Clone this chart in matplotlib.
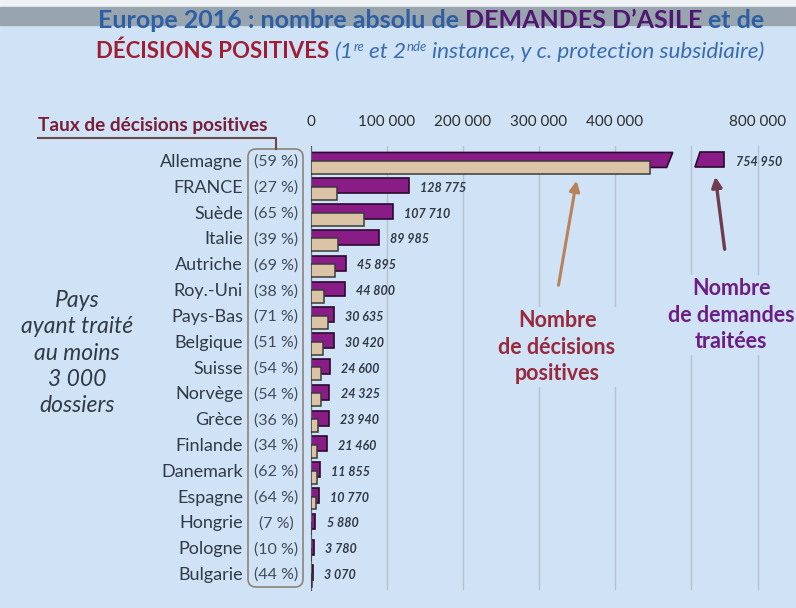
import matplotlib
matplotlib.use("Agg")
import matplotlib.pyplot as plt
from matplotlib.patches import Polygon, FancyBboxPatch, Rectangle, FancyArrowPatch
from matplotlib.transforms import Affine2D, blended_transform_factory
import numpy as np

# --- data ---
pays = ["Allemagne", "FRANCE", "Suède", "Italie", "Autriche", "Roy.-Uni",
        "Pays-Bas", "Belgique", "Suisse", "Norvège", "Grèce", "Finlande",
        "Danemark", "Espagne", "Hongrie", "Pologne", "Bulgarie"]
taux = [59, 27, 65, 39, 69, 38, 71, 51, 54, 54, 36, 34, 62, 64, 7, 10, 44]
demandes = [754950, 128775, 107710, 89985, 45895, 44800, 30635, 30420,
            24600, 24325, 23940, 21460, 11855, 10770, 5880, 3780, 3070]
positives = [445400, 34800, 70000, 35100, 31700, 17000, 21800, 15500,
             13300, 13100, 8600, 7300, 7350, 6900, 410, 380, 1350]
ticks_left = [0, 100000, 200000, 300000, 400000, 500000]
ticks_right = [800000]

W, H = 796, 608
BG = "#cfe2f6"
PURPLE = "#8a1c88"
TAN = "#dbc4a6"
TXT = "#323a46"
plt.rcParams["font.family"] = ["Lato", "DejaVu Sans"]

fig = plt.figure(figsize=(W / 100, H / 100), dpi=100, facecolor=BG)
# pixel coordinates of the reference (origin top-left)
T = Affine2D().scale(1 / W, -1 / H).translate(0, 1) + fig.transFigure

# video overlay strip at the top
fig.patches.append(Rectangle((0, 0), W, 7, transform=T, color="#eef2f5", zorder=0))
fig.patches.append(Rectangle((0, 7), W, 18, transform=T, color="#98a4ae", zorder=0))

# --- axes geometry ---
PX_PER = 76 / 100000            # pixels per unit
x0_px, top_px, bot_px = 311, 146, 590
row0, row_step = 162, 25.8
n = len(pays)
ylim = (16 + (bot_px - 575) / row_step, -(row0 - top_px) / row_step)
bottom = 1 - bot_px / H
height = (bot_px - top_px) / H

ax = fig.add_axes([x0_px / W, bottom, (700 - x0_px) / W, height])
ax.set_xlim(0, (700 - x0_px) / PX_PER)
r0, r1 = 690, 790
ax2 = fig.add_axes([r0 / W, bottom, (r1 - r0) / W, height])
ax2.set_xlim(800000 - (758 - r0) / PX_PER, 800000 + (r1 - 758) / PX_PER)

for a in (ax, ax2):
    a.set_ylim(*ylim)
    a.patch.set_alpha(0)
    for s in a.spines.values():
        s.set_visible(False)
    a.xaxis.tick_top()
    a.tick_params(axis="x", length=0, pad=12, labelsize=11, labelcolor="#2e2e2e")
    a.set_axisbelow(True)
    a.grid(axis="x", color="#b4c2d0", lw=1)
    a.set_yticks([])

ax.spines["left"].set_visible(True)
ax.spines["left"].set_color("#5a6068")
fmt = lambda v: f"{v:,}".replace(",", " ")
ax.set_xticks(ticks_left)
ax.set_xticklabels([fmt(t) if t < 500000 else "" for t in ticks_left])
ax2.set_xticks(ticks_right)
ax2.set_xticklabels([fmt(t) for t in ticks_right])

y = np.arange(n)
ph, poff = 0.58, -0.08
th, toff = 0.50, 0.21
BREAK = 476000
SLANT = 8000
cut_top = ax2.get_xlim()[0] + (700 - r0) / PX_PER
cut_bot = ax2.get_xlim()[0] + (695 - r0) / PX_PER

for i, v in enumerate(demandes):
    yt, yb = i + poff - ph / 2, i + poff + ph / 2
    if v > BREAK:
        ax.add_patch(Polygon([(0, yt), (BREAK, yt), (BREAK - SLANT, yb), (0, yb)],
                             fc=PURPLE, ec="#2a0a2c", lw=1.2, zorder=2))
        ax2.add_patch(Polygon([(cut_top, yt), (v, yt), (v, yb), (cut_bot, yb)],
                              fc=PURPLE, ec="#2a0a2c", lw=1.2, zorder=2))
        ax2.annotate(fmt(v), (v, i), xytext=(9, 0), textcoords="offset points",
                     va="center", ha="left", fontsize=9, fontweight="bold",
                     style="italic", color=TXT)
    else:
        ax.barh(i + poff, v, height=ph, color=PURPLE, edgecolor="#2a0a2c",
                lw=1.2, zorder=2)
        ax.annotate(fmt(v), (v, i), xytext=(8, 0), textcoords="offset points",
                    va="center", ha="left", fontsize=9, fontweight="bold",
                    style="italic", color=TXT)
ax.barh(y + toff, positives, height=th, color=TAN, edgecolor="#3a3a3a",
        lw=1.1, zorder=3)

# country names and rates
bt = blended_transform_factory(T, ax.transData)
for i, (p, t) in enumerate(zip(pays, taux)):
    fig.text(243, i, p, transform=bt, ha="right", va="center",
             fontsize=13, color=TXT)
    fig.text(276, i, f"({t} %)", transform=bt, ha="center", va="center",
             fontsize=11.5, color="#434b58")
fig.patches.append(FancyBboxPatch((248, 149), 55, 438, transform=T,
                                  boxstyle="round,pad=0,rounding_size=8",
                                  fc="none", ec="#8c8478", lw=1.2))

fig.text(38, 131, "Taux de décisions positives", transform=T, ha="left",
         va="baseline", fontsize=13.7, fontweight="bold", color="#7a1e38")
fig.lines.append(plt.Line2D([38, 276, 276], [138, 138, 149], transform=T,
                            color="#6a4848", lw=1.5))

fig.text(77, 353, "Pays\nayant traité\nau moins\n3 000\ndossiers", transform=T,
         ha="center", va="center", fontsize=16.5, style="italic",
         color=TXT, linespacing=1.3)

# annotations
box = dict(boxstyle="square,pad=0.15", fc=BG, ec="none")
fig.text(557, 347, "Nombre\nde décisions\npositives", transform=T, ha="center",
         va="center", fontsize=15.5, fontweight="bold", color="#982a3c",
         linespacing=1.3, bbox=box)
fig.text(731, 315, "Nombre\nde demandes\ntraitées", transform=T, ha="center",
         va="center", fontsize=15.5, fontweight="bold", color="#6c1e82",
         linespacing=1.3, bbox=box)
fig.patches.append(FancyArrowPatch(
    (558, 288), (577, 178), transform=T, arrowstyle="-|>,head_length=6,head_width=3",
    color="#b8825a", lw=2.2, mutation_scale=1))
fig.patches.append(FancyArrowPatch(
    (725, 252), (715, 174), transform=T, arrowstyle="-|>,head_length=6,head_width=3",
    color="#6e3c4e", lw=2.4, mutation_scale=1))


# title lines made of coloured pieces
def rich(ybase, parts, xc):
    r = fig.canvas.get_renderer()
    sp = {}
    items = []
    for s, kw, rise, gap in parts:
        t = fig.text(0, 0, s, transform=T, va="baseline", **kw)
        w = t.get_window_extent(r).width
        key = (kw.get("fontsize"), kw.get("fontweight"), kw.get("style"))
        if key not in sp:
            a = fig.text(0, 0, "a a", **kw).get_window_extent(r).width
            b = fig.text(0, 0, "aa", **kw)
            sp[key] = a - b.get_window_extent(r).width
            for tt in fig.texts[-2:]:
                tt.remove()
        items.append((t, w, rise, sp[key] if gap else 0))
    total = sum(w + g for _, w, _, g in items)
    x = xc - total / 2
    for t, w, rise, g in items:
        x += g
        t.set_position((x, ybase - rise))
        x += w


BLUE = "#2d5fa5"
b18 = dict(fontsize=18, fontweight="bold")
rich(28, [("Europe 2016 : nombre absolu de", dict(color=BLUE, **b18), 0, False),
          ("DEMANDES D’ASILE", dict(color="#4f1870", **b18), 0, True),
          ("et de", dict(color=BLUE, **b18), 0, True)], 431)
it = dict(fontsize=16.2, style="italic", color="#3a6db0")
sup = dict(fontsize=9.5, style="italic", color="#3a6db0")
rich(58, [("DÉCISIONS POSITIVES", dict(fontsize=16, fontweight="bold", color="#a01e34"), 0, False),
          ("(1", it, 0, True), ("re", sup, 7, False),
          ("et 2", it, 0, True), ("nde", sup, 7, False),
          ("instance, y c. protection subsidiaire)", it, 0, True)], 430)

fig.savefig("out.png", dpi=100, facecolor=BG)
